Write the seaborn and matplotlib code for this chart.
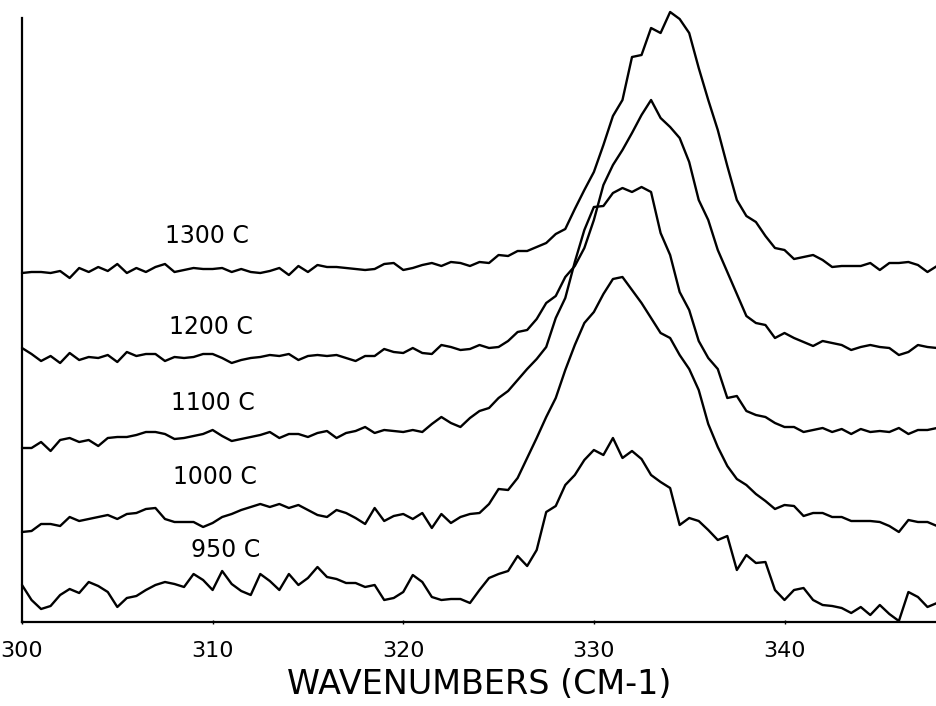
import numpy as np
import pandas as pd
import matplotlib
matplotlib.use("Agg")
import matplotlib.pyplot as plt
import seaborn as sns

# Wavenumber grid (cm-1), read every 0.5 cm-1 from the original trace
wavenumbers = np.arange(300.0, 348.01, 0.5)

# Intensities (arbitrary units, stacked traces as plotted)
int_1300 = [349, 350, 350, 349, 351, 344, 354, 350, 355, 351,
            358, 349, 354, 350, 355, 358, 350, 352, 354, 353,
            353, 354, 350, 353, 350, 349, 351, 354, 347, 356,
            350, 357, 355, 355, 354, 353, 352, 353, 358, 359,
            352, 354, 357, 359, 356, 360, 359, 356, 360, 359,
            367, 366, 371, 371, 375, 379, 388, 393, 413, 432,
            450, 477, 506, 522, 565, 567, 594, 589, 610, 603,
            589, 554, 522, 492, 456, 422, 406, 400, 386, 374,
            372, 363, 365, 367, 362, 355, 356, 356, 356, 359,
            352, 359, 359, 360, 357, 350, 356]

int_1200 = [274, 268, 261, 266, 259, 269, 262, 265, 264, 267,
            260, 270, 266, 268, 268, 261, 265, 264, 265, 268,
            268, 264, 259, 262, 264, 265, 267, 266, 268, 262,
            266, 267, 266, 267, 264, 261, 266, 266, 273, 270,
            269, 274, 269, 268, 277, 275, 272, 273, 277, 274,
            275, 281, 290, 292, 303, 319, 326, 345, 356, 374,
            402, 437, 457, 472, 489, 507, 522, 504, 495, 484,
            460, 422, 402, 372, 350, 328, 306, 299, 297, 284,
            289, 284, 280, 276, 281, 279, 277, 272, 275, 277,
            275, 274, 267, 270, 277, 275, 274]

int_1100 = [174, 174, 180, 171, 182, 184, 180, 182, 176, 184,
            185, 185, 187, 190, 190, 188, 183, 184, 186, 188,
            192, 186, 181, 183, 185, 187, 190, 184, 188, 188,
            185, 189, 191, 184, 189, 191, 195, 189, 192, 191,
            190, 192, 190, 198, 205, 199, 195, 204, 211, 214,
            224, 231, 242, 253, 263, 275, 304, 324, 360, 392,
            415, 416, 429, 434, 430, 435, 430, 389, 367, 330,
            312, 281, 264, 253, 224, 226, 211, 207, 205, 199,
            195, 195, 190, 192, 194, 190, 193, 188, 193, 190,
            191, 190, 194, 188, 192, 192, 194]

int_1000 = [90, 91, 98, 98, 96, 105, 101, 103, 105, 107,
            103, 108, 109, 113, 114, 103, 100, 100, 100, 95,
            99, 105, 108, 112, 115, 118, 115, 118, 114, 117,
            112, 107, 105, 112, 109, 104, 98, 114, 101, 106,
            108, 103, 109, 94, 108, 99, 105, 108, 109, 118,
            133, 132, 144, 164, 184, 205, 224, 252, 277, 299,
            310, 328, 343, 345, 332, 319, 304, 289, 284, 267,
            253, 232, 198, 175, 156, 143, 137, 128, 121, 113,
            117, 116, 106, 109, 109, 105, 105, 101, 101, 101,
            100, 96, 90, 102, 100, 100, 96]

int_950 = [37, 22, 13, 16, 27, 33, 29, 40, 36, 30,
           15, 24, 26, 32, 37, 40, 38, 35, 48, 42,
           32, 51, 38, 31, 27, 48, 41, 32, 48, 37,
           44, 55, 45, 43, 39, 39, 35, 37, 22, 24,
           30, 47, 40, 25, 22, 23, 23, 19, 32, 44,
           48, 51, 66, 56, 72, 110, 116, 137, 147, 162,
           172, 167, 184, 164, 171, 163, 147, 140, 134, 97,
           104, 101, 92, 82, 86, 52, 67, 59, 60, 32,
           22, 32, 34, 22, 17, 16, 14, 9, 15, 7,
           17, 8, 1, 30, 25, 15, 19]

temperatures = ["1300 C", "1200 C", "1100 C", "1000 C", "950 C"]
series = [int_1300, int_1200, int_1100, int_1000, int_950]

# label anchor (wavenumber, intensity) for each trace
label_x = [309.7, 309.9, 310.0, 310.1, 310.7]
label_y = [386, 295, 219, 145, 72]

df = pd.concat(
    [pd.DataFrame({"wavenumber": wavenumbers, "intensity": vals, "temp": t})
     for t, vals in zip(temperatures, series)],
    ignore_index=True,
)

sns.set_style("ticks")
plt.rcParams["font.family"] = ["DejaVu Sans"]
plt.rcParams["text.color"] = "black"
plt.rcParams["axes.labelcolor"] = "black"

fig = plt.figure(figsize=(9.37, 7.06), dpi=100)
ax = fig.add_axes([22 / 937, 84 / 706, 915 / 937, 604 / 706])

sns.lineplot(data=df, x="wavenumber", y="intensity", hue="temp",
             hue_order=temperatures, palette=["black"] * 5,
             estimator=None, legend=False, linewidth=1.7, ax=ax)
for line in ax.get_lines():
    line.set_clip_on(False)

for t, lx, ly in zip(temperatures, label_x, label_y):
    ax.text(lx, ly, t, ha="center", va="center", fontsize=17, color="black")

ax.set_xlim(300, 348)
ax.set_ylim(0, 604)
ax.set_xticks([300, 310, 320, 330, 340])
ax.set_yticks([])
ax.tick_params(axis="x", length=3, direction="inout", width=1,
               labelsize=16, pad=12, colors="black")
ax.set_xlabel("WAVENUMBERS (CM-1)", fontsize=24, labelpad=5, color="black")
ax.set_ylabel("")

sns.despine(ax=ax)
for side in ["left", "bottom"]:
    ax.spines[side].set_linewidth(1.6)
    ax.spines[side].set_color("black")

fig.savefig("out.png", dpi=100)
plt.close(fig)
